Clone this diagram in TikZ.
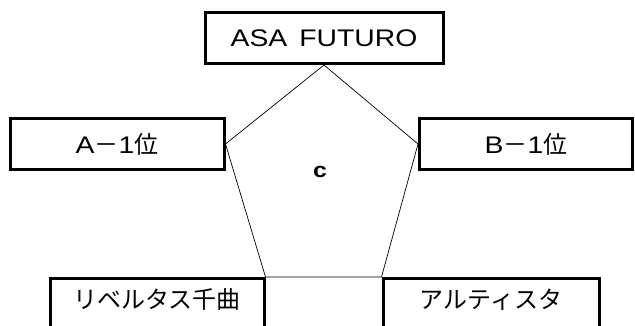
\documentclass[tikz,border=0pt]{standalone}
\usepackage{fontspec}
\setmainfont{Noto Sans CJK JP}
\newfontfamily\latn[FakeStretch=1.18]{Liberation Sans}
\begin{document}
\begin{tikzpicture}[x=1pt,y=-1pt,
  teambox/.style={draw,line width=3pt,minimum width=#1,minimum height=51pt,
    inner sep=0pt,font=\fontsize{24}{28}\selectfont},
  side/.style={line width=0.7pt}]
\useasboundingbox (0,0) rectangle (635,325);
\clip (0,0) rectangle (635,325);
% the five clubs
\node[teambox=238pt] (asa) at (324,38) {\latn ASA\hspace{12pt}FUTURO};
\node[teambox=214pt] (aone) at (117,144) {{\latn A}－{\latn 1}位};
\node[teambox=213pt] (bone) at (526,144) {{\latn B}－{\latn 1}位};
\node[teambox=214pt,text depth=10pt] (chikuma) at (157,304) {リベルタス千曲};
\node[teambox=216pt,text depth=10pt] (artista) at (491,304) {アルティスタ};
% pentagon
\draw[side] (asa.south) -- (bone.west) -- (artista.north west)
  -- (chikuma.north east) -- (aone.east) -- cycle;
\node[font=\latn\bfseries\fontsize{21}{24}\selectfont] (c) at (320,172) {c};
\end{tikzpicture}
\end{document}
